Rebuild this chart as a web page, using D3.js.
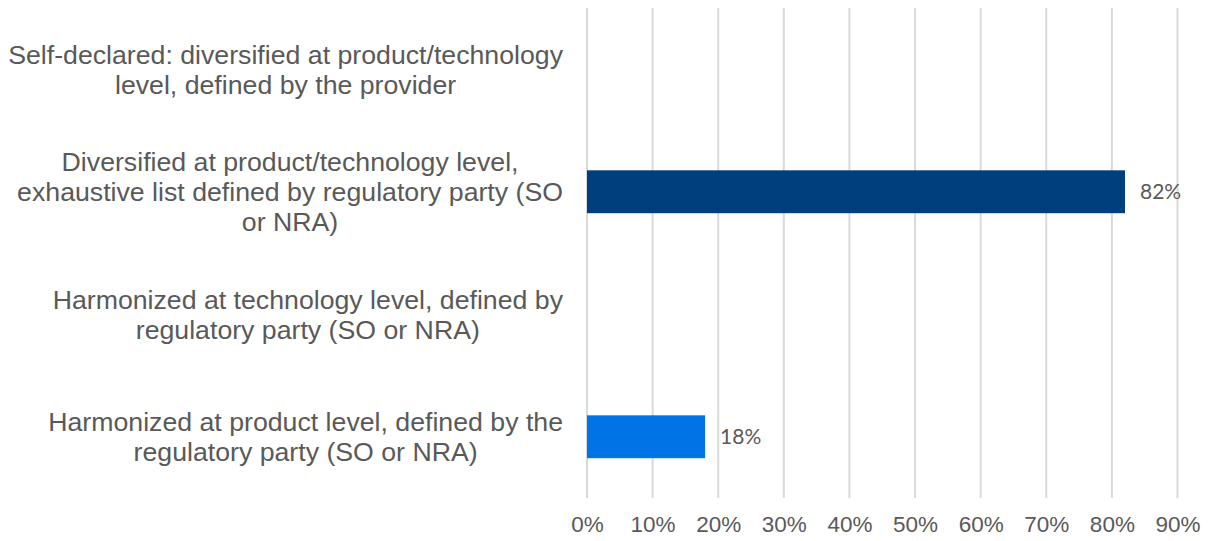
<!DOCTYPE html>
<html>
<head>
<meta charset="utf-8">
<script src="https://cdn.jsdelivr.net/npm/d3@7"></script>
<style>
  html, body { margin: 0; padding: 0; background: #fff; }
  svg { display: block; }
</style>
</head>
<body>
<svg id="chart" width="1213" height="541"></svg>
<script>
// Category labels, each split into its wrapped lines (top to bottom)
const categories = [
  ["Self-declared: diversified at product/technology", "level, defined by the provider"],
  ["Diversified at product/technology level,", "exhaustive list defined by regulatory party (SO", "or NRA)"],
  ["Harmonized at technology level, defined by", "regulatory party (SO or NRA)"],
  ["Harmonized at product level, defined by the", "regulatory party (SO or NRA)"]
];
// Share of respondents per category (null = no bar)
const values = [null, 0.82, null, 0.18];
const barColors = ["#003f7d", "#003f7d", "#0073e6", "#0073e6"];
const tickValues = [0, 0.1, 0.2, 0.3, 0.4, 0.5, 0.6, 0.7, 0.8, 0.9];

const svg = d3.select("#chart");
const margin = { top: 8, left: 587, right: 35, bottom: 43 };
const W = 1213, H = 541;

const x = d3.scaleLinear().domain([0, 0.9]).range([margin.left, 1177.5]);
const y = d3.scaleBand()
  .domain(d3.range(categories.length))
  .range([margin.top, H - margin.bottom])
  .paddingInner(0.65)
  .paddingOuter(0.325);

// Vertical gridlines
svg.append("g")
  .selectAll("line")
  .data(tickValues)
  .join("line")
  .attr("x1", d => x(d)).attr("x2", d => x(d))
  .attr("y1", margin.top).attr("y2", H - margin.bottom)
  .attr("stroke", "#d9d9d9")
  .attr("stroke-width", 2);

// Bottom axis labels
const xAxis = d3.axisBottom(x)
  .tickValues(tickValues)
  .tickFormat(d3.format(".0%"))
  .tickSize(0)
  .tickPadding(18);
const gx = svg.append("g")
  .attr("transform", `translate(0,${H - margin.bottom})`)
  .call(xAxis);
gx.select(".domain").remove();
gx.selectAll("text")
  .attr("fill", "#595959")
  .style("font-family", "'Liberation Sans', Arial, sans-serif")
  .style("font-size", "22.5px");

// Bars
const barData = values.map((v, i) => ({ v, i })).filter(d => d.v != null);
svg.append("g")
  .selectAll("rect")
  .data(barData)
  .join("rect")
  .attr("x", x(0))
  .attr("y", d => y(d.i))
  .attr("width", d => x(d.v) - x(0))
  .attr("height", y.bandwidth())
  .attr("fill", d => barColors[d.i]);

// Value labels
svg.append("g")
  .selectAll("text")
  .data(barData)
  .join("text")
  .attr("x", d => x(d.v) + 15)
  .attr("y", d => y(d.i) + y.bandwidth() / 2)
  .attr("dy", "0.35em")
  .attr("fill", "#595959")
  .style("font-family", "Lato, 'Open Sans', sans-serif")
  .style("font-size", "21px")
  .text(d => d3.format(".0%")(d.v));

// Category labels: each block is right-aligned against the plot,
// with its lines centred within the block's own width
const lineH = 30;
const labelRight = 563;
const labels = svg.append("g")
  .selectAll("text")
  .data(categories)
  .join("text")
  .attr("text-anchor", "middle")
  .attr("fill", "#595959")
  .style("font-family", "'Liberation Sans', Arial, sans-serif")
  .style("font-size", "26.7px");
labels.each(function(lines, i) {
  const cy = y(i) + y.bandwidth() / 2;
  const y0 = cy - (lines.length - 1) * lineH / 2;
  const spans = d3.select(this).selectAll("tspan")
    .data(lines)
    .join("tspan")
    .attr("y", (d, k) => y0 + k * lineH)
    .attr("dy", "0.35em")
    .text(d => d);
  let maxW = 0;
  spans.each(function() { maxW = Math.max(maxW, this.getComputedTextLength()); });
  spans.attr("x", labelRight - maxW / 2);
});
</script>
</body>
</html>
